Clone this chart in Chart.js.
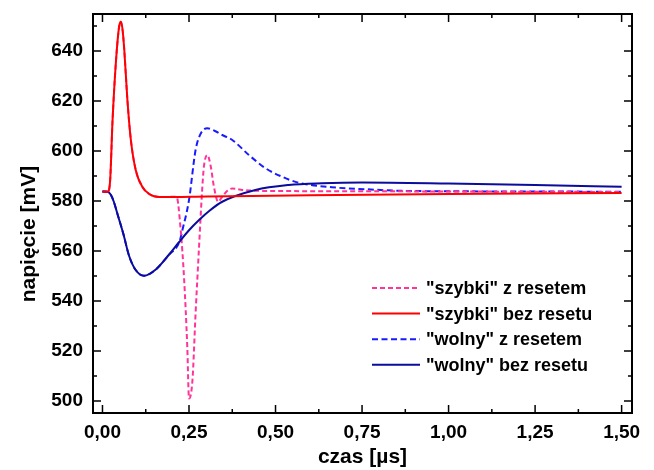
<!DOCTYPE html>
<html>
<head>
<meta charset="utf-8">
<script src="https://cdn.jsdelivr.net/npm/chart.js@4/dist/chart.umd.min.js"></script>
<style>
  html, body { margin: 0; padding: 0; background: #fff; }
  #wrap { width: 654px; height: 470px; }
</style>
</head>
<body>
<div id="wrap"><canvas id="chart" width="654" height="470"></canvas></div>
<script>
// czas [µs] / napięcie [mV]
const xTicks = [0, 0.25, 0.5, 0.75, 1.0, 1.25, 1.5];
const yTicks = [500, 520, 540, 560, 580, 600, 620, 640];

// "szybki" bez resetu
const fastX = [0, 0.015, 0.022, 0.029, 0.039, 0.048, 0.053, 0.058, 0.063, 0.072, 0.082, 0.096, 0.115, 0.135, 0.165, 0.3, 0.6, 1.0, 1.5];
const fastY = [583.7, 583.7, 588, 612, 636, 649.7, 651.7, 648.5, 640.4, 620.4, 604.4, 592.4, 585.7, 582.8, 581.6, 581.8, 582.3, 582.8, 583.2];

// "szybki" z resetem
const fastResetX = [0, 0.015, 0.022, 0.029, 0.039, 0.048, 0.053, 0.058, 0.063, 0.072, 0.082, 0.096, 0.115, 0.135, 0.165, 0.214,
  0.226, 0.236, 0.245, 0.25, 0.26, 0.269, 0.279, 0.288, 0.293, 0.303, 0.313, 0.322, 0.334, 0.346, 0.36, 0.375, 0.405, 0.5, 0.75, 1.0, 1.25, 1.5];
const fastResetY = [583.7, 583.7, 588, 612, 636, 649.7, 651.7, 648.5, 640.4, 620.4, 604.4, 592.4, 585.7, 582.8, 581.6, 581.7,
  568.4, 548.4, 521.7, 501, 508.4, 535, 561.7, 584.4, 593.7, 598.4, 593.7, 585.7, 579.7, 581.7, 584, 585, 584.4, 584, 583.9, 583.8, 583.7, 583.6];

// "wolny" bez resetu
const slowX = [0, 0.015, 0.024, 0.032, 0.045, 0.06, 0.077, 0.096, 0.12, 0.154, 0.192, 0.221, 0.25, 0.279, 0.31, 0.346, 0.442, 0.538, 0.634, 0.75, 1.0, 1.25, 1.5];
const slowY = [583.8, 583.7, 582.5, 580, 574, 567, 558, 552.4, 550.1, 552.6, 558.5, 563.5, 568.3, 572.4, 576.2, 579.7, 584.4, 586.4, 587.1, 587.4, 587, 586.4, 585.7];

// "wolny" z resetem
const slowResetX = [0, 0.015, 0.024, 0.032, 0.045, 0.06, 0.077, 0.096, 0.12, 0.154, 0.192, 0.222, 0.231, 0.25, 0.269, 0.284, 0.303, 0.325,
  0.346, 0.375, 0.423, 0.471, 0.519, 0.567, 0.663, 0.76, 0.856, 1.0, 1.25, 1.5];
const slowResetY = [583.8, 583.7, 582.5, 580, 574, 567, 558, 552.4, 550.1, 552.6, 558.5, 563.6, 568.4, 580.4, 600.4, 607, 609.1, 608,
  606.4, 604.4, 598.4, 593.1, 589.7, 587.3, 585.5, 584.7, 584.1, 583.9, 583.8, 583.7];

const pts = (xs, ys) => xs.map((x, i) => ({ x, y: ys[i] }));
const fmtX = v => v.toFixed(2).replace('.', ',');

const series = [
  { label: '"szybki" z resetem', data: pts(fastResetX, fastResetY), borderColor: '#ff3399', borderDash: [5, 3], order: 2 },
  { label: '"szybki" bez resetu', data: pts(fastX, fastY), borderColor: '#ff0000', borderDash: [], order: 0 },
  { label: '"wolny" z resetem', data: pts(slowResetX, slowResetY), borderColor: '#1a1aff', borderDash: [6, 3.5], order: 3 },
  { label: '"wolny" bez resetu', data: pts(slowX, slowY), borderColor: '#0b0b9c', borderDash: [], order: 1 }
];

// frame with inward ticks, legend box and y title, Origin style
const framePlugin = {
  id: 'frame',
  afterDatasetsDraw(chart) {
    const { ctx, chartArea: a, scales: { x, y } } = chart;
    ctx.save();
    ctx.strokeStyle = '#000';
    ctx.lineWidth = 1.5;
    ctx.beginPath();
    for (let v = 0; v <= 1.5001; v += 0.125) {
      const px = x.getPixelForValue(v);
      const len = Math.abs(v / 0.25 - Math.round(v / 0.25)) < 1e-6 ? 8 : 4;
      ctx.moveTo(px, a.bottom); ctx.lineTo(px, a.bottom - len);
      ctx.moveTo(px, a.top); ctx.lineTo(px, a.top + len);
    }
    for (let v = 500; v <= 650; v += 10) {
      const py = y.getPixelForValue(v);
      const len = v % 20 === 0 ? 8 : 4;
      ctx.moveTo(a.left, py); ctx.lineTo(a.left + len, py);
      ctx.moveTo(a.right, py); ctx.lineTo(a.right - len, py);
    }
    ctx.stroke();
    ctx.lineWidth = 2;
    ctx.strokeRect(a.left, a.top, a.right - a.left, a.bottom - a.top);

    // legend
    const order = [0, 1, 2, 3];
    ctx.font = 'bold 18px Arial, "Liberation Sans", sans-serif';
    ctx.textBaseline = 'middle';
    ctx.fillStyle = '#000';
    order.forEach((i, row) => {
      const ds = chart.data.datasets[i];
      const cy = 288 + row * 25.6;
      ctx.beginPath();
      ctx.strokeStyle = ds.borderColor;
      ctx.lineWidth = 2;
      ctx.setLineDash(ds.borderDash);
      ctx.moveTo(372, cy); ctx.lineTo(420, cy);
      ctx.stroke();
      ctx.setLineDash([]);
      ctx.fillText(ds.label, 426, cy + 1);
    });

    // y title
    ctx.translate(29, 234);
    ctx.rotate(-Math.PI / 2);
    ctx.textAlign = 'center';
    ctx.font = 'bold 21px Arial, "Liberation Sans", sans-serif';
    ctx.fillText('napięcie [mV]', 0, 0);
    ctx.restore();
  }
};

const tickFont = { family: 'Arial, "Liberation Sans", sans-serif', size: 19, weight: 'bold' };

new Chart(document.getElementById('chart').getContext('2d'), {
  type: 'line',
  data: {
    datasets: series.map(s => ({
      ...s,
      borderWidth: 2,
      pointRadius: 0,
      fill: false,
      cubicInterpolationMode: 'monotone'
    }))
  },
  options: {
    responsive: false,
    animation: false,
    layout: { padding: { top: 14, right: 22, left: 0, bottom: 0 } },
    plugins: { legend: { display: false }, tooltip: { enabled: false } },
    scales: {
      x: {
        type: 'linear',
        min: -0.0274,
        max: 1.530,
        afterBuildTicks: s => { s.ticks = xTicks.map(v => ({ value: v })); },
        afterFit: s => { s.height = 57; s.paddingLeft = 0; s.paddingRight = 0; },
        grid: { display: false, drawTicks: false },
        border: { display: false },
        ticks: { color: '#000', font: tickFont, padding: 8, autoSkip: false, maxRotation: 0, callback: v => fmtX(v) },
        title: { display: true, text: 'czas [µs]', color: '#000', padding: { top: 0, bottom: 0 },
          font: { family: 'Arial, "Liberation Sans", sans-serif', size: 21, weight: 'bold' } }
      },
      y: {
        min: 495.2,
        max: 654.8,
        afterBuildTicks: s => { s.ticks = yTicks.map(v => ({ value: v })); },
        afterFit: s => { s.width = 93; s.paddingTop = 0; s.paddingBottom = 0; },
        grid: { display: false, drawTicks: false },
        border: { display: false },
        ticks: { color: '#000', font: tickFont, padding: 10, autoSkip: false, callback: v => String(v) }
      }
    }
  },
  plugins: [framePlugin]
});
</script>
</body>
</html>
